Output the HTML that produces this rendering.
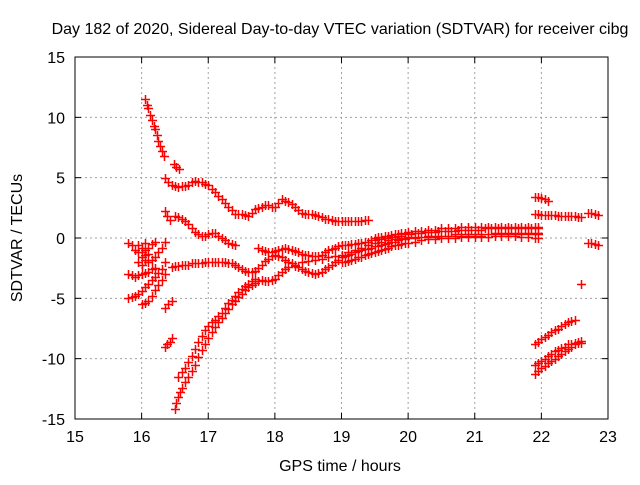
<!DOCTYPE html>
<html><head><meta charset="utf-8"><style>
body{margin:0;background:#fff}
svg text{font-family:"Liberation Sans",sans-serif;font-size:16px;fill:#000}
</style></head><body>
<svg id="c" width="640" height="480"></svg>
<script>
const xTicks=[15,16,17,18,19,20,21,22,23];
const yTicks=[-15,-10,-5,0,5,10,15];
const trackA=[[16.05,11.5],[16.08,11],[16.1,10.8],[16.13,10.2],[16.15,9.8],[16.18,9.3],[16.2,9],[16.23,8.5],[16.25,8],[16.28,7.6],[16.3,7.2],[16.33,6.8],[16.48,6.1],[16.52,5.9],[16.56,5.7],[16.35,5],[16.4,4.6],[16.45,4.4],[16.5,4.3],[16.55,4.2],[16.6,4.3],[16.65,4.3],[16.7,4.4],[16.75,4.6],[16.8,4.7],[16.85,4.6],[16.9,4.6],[16.95,4.5],[17.0,4.4],[17.05,4.1],[17.1,3.8],[17.15,3.5],[17.2,3.2],[17.25,2.9],[17.3,2.6],[17.35,2.3],[17.4,2.0],[17.45,2.0],[17.5,2.0],[17.55,1.9],[17.6,1.8],[17.65,2.1],[17.7,2.4],[17.75,2.5],[17.8,2.6],[17.85,2.7],[17.9,2.7],[17.95,2.6],[18.0,2.6],[18.05,2.9],[18.1,3.2],[18.15,3.1],[18.2,3.0],[18.25,2.8],[18.3,2.6],[18.35,2.3],[18.4,2.1],[18.45,2.0],[18.5,2.0],[18.55,2.0],[18.6,1.9],[18.65,1.8],[18.7,1.7],[18.75,1.6],[18.8,1.6],[18.85,1.5],[18.9,1.4],[18.95,1.4],[19.0,1.4],[19.05,1.4],[19.1,1.4],[19.15,1.4],[19.2,1.4],[19.25,1.4],[19.3,1.4],[19.35,1.5],[19.4,1.5]];
const trackB=[[16.35,2.2],[16.38,1.8],[16.42,1.5],[16.5,1.8],[16.55,1.7],[16.6,1.6],[16.65,1.4],[16.7,1.2],[16.75,0.8],[16.8,0.5],[16.85,0.3],[16.9,0.2],[16.95,0.2],[17.0,0.3],[17.05,0.4],[17.1,0.4],[17.15,0.2],[17.2,0.0],[17.25,-0.2],[17.3,-0.4],[17.35,-0.5],[17.4,-0.6],[17.75,-0.8],[17.8,-1.0],[17.85,-1.1],[17.9,-1.2],[17.95,-1.2],[18.0,-1.1],[18.05,-1.0],[18.1,-0.9],[18.15,-0.8],[18.2,-0.9],[18.25,-1.0],[18.3,-1.1],[18.35,-1.2],[18.4,-1.3],[18.45,-1.4],[18.5,-1.4],[18.55,-1.5],[18.6,-1.5],[18.65,-1.5],[18.7,-1.4],[18.75,-1.2],[18.8,-1.0],[18.85,-0.9],[18.9,-0.8],[18.95,-0.7],[19.0,-0.6],[19.05,-0.6],[19.1,-0.6],[19.15,-0.5],[19.2,-0.5],[19.25,-0.4],[19.3,-0.4],[19.35,-0.3],[19.4,-0.3],[19.45,-0.2],[19.5,-0.2],[19.55,-0.1],[19.6,-0.1],[19.65,0.0],[19.7,0.0],[19.75,0.1],[19.8,0.1],[19.85,0.2],[19.9,0.2],[19.95,0.3],[20.0,0.3],[20.05,0.3],[20.1,0.4],[20.15,0.4],[20.2,0.4],[20.25,0.5],[20.3,0.5],[20.35,0.5],[20.4,0.5],[20.45,0.6],[20.5,0.6],[20.55,0.6],[20.6,0.6],[20.65,0.6],[20.7,0.6],[20.75,0.7],[20.8,0.7],[20.85,0.7],[20.9,0.7],[20.95,0.7],[21.0,0.7],[21.05,0.7],[21.1,0.7],[21.15,0.8],[21.2,0.8],[21.25,0.8],[21.3,0.8],[21.35,0.8],[21.4,0.8],[21.45,0.8],[21.5,0.8],[21.55,0.8],[21.6,0.8],[21.65,0.8],[21.7,0.8],[21.75,0.8],[21.8,0.8],[21.85,0.8],[21.9,0.8],[21.95,0.8]];
const trackC=[[16.45,-2.4],[16.5,-2.3],[16.55,-2.3],[16.6,-2.2],[16.65,-2.2],[16.7,-2.2],[16.75,-2.1],[16.8,-2.1],[16.85,-2.1],[16.9,-2.1],[16.95,-2.0],[17.0,-2.0],[17.05,-2.0],[17.1,-2.0],[17.15,-2.0],[17.2,-2.0],[17.25,-2.0],[17.3,-2.1],[17.35,-2.1],[17.4,-2.2],[17.45,-2.4],[17.5,-2.6],[17.55,-2.7],[17.6,-2.8],[17.65,-2.8],[17.7,-2.7],[17.75,-2.5],[17.8,-2.2],[17.85,-1.9],[17.9,-1.7],[17.95,-1.5],[18.0,-1.4],[18.05,-1.5],[18.1,-1.6],[18.15,-1.8],[18.2,-2.0],[18.25,-2.1],[18.3,-2.3],[18.35,-2.4],[18.4,-2.6],[18.45,-2.7],[18.5,-2.8],[18.55,-2.9],[18.6,-3.0],[18.65,-2.9],[18.7,-2.8],[18.75,-2.6],[18.8,-2.4],[18.85,-2.2],[18.9,-2.0],[18.95,-1.8],[19.0,-1.6],[19.05,-1.5],[19.1,-1.4],[19.15,-1.3],[19.2,-1.2],[19.25,-1.1],[19.3,-1.0],[19.35,-0.95],[19.4,-0.9],[19.45,-0.8],[19.5,-0.7],[19.55,-0.65],[19.6,-0.6],[19.65,-0.5],[19.7,-0.4],[19.75,-0.35],[19.8,-0.3],[19.85,-0.2],[19.9,-0.1],[19.95,-0.05],[20.0,0],[20.1,0.0],[20.2,0.1],[20.3,0.1],[20.4,0.1],[20.5,0.2],[20.6,0.2],[20.7,0.2],[20.8,0.2],[20.9,0.2],[21.0,0.2],[21.1,0.2],[21.2,0.3],[21.3,0.3],[21.4,0.3],[21.5,0.3],[21.6,0.3],[21.7,0.3],[21.8,0.3],[21.9,0.3],[21.95,0.3]];
const trackD=[[16.5,-14.2],[16.52,-13.7],[16.55,-13.2],[16.58,-12.8],[16.6,-12.4],[16.65,-11.9],[16.7,-11.5],[16.75,-11.0],[16.8,-10.5],[16.85,-9.9],[16.9,-9.3],[16.95,-8.8],[17.0,-8.3],[17.05,-7.8],[17.1,-7.4],[17.15,-7.0],[17.2,-6.6],[17.25,-6.2],[17.3,-5.9],[17.35,-5.5],[17.4,-5.2],[17.45,-4.9],[17.5,-4.6],[17.55,-4.3],[17.6,-4.1],[17.65,-3.9],[17.7,-3.7],[17.75,-3.6],[17.8,-3.5],[17.85,-3.6],[17.9,-3.6],[17.95,-3.5],[18.0,-3.4],[18.05,-3.1],[18.1,-2.8],[18.15,-2.6],[18.2,-2.4],[18.3,-2.2],[18.4,-2.0],[18.5,-1.9],[18.6,-1.8],[18.7,-1.7],[18.8,-1.6],[18.9,-1.5],[19.0,-1.4],[19.1,-1.2],[19.2,-1.0],[19.3,-0.8],[19.4,-0.6],[19.5,-0.4],[19.6,-0.3],[19.7,-0.2],[19.8,-0.1],[19.9,0.0],[20.0,0.1],[20.1,0.1],[20.2,0.1],[20.3,0.2],[20.4,0.2],[20.5,0.2],[20.6,0.2],[20.7,0.3],[20.8,0.3],[20.9,0.3],[21.0,0.3],[21.1,0.3],[21.2,0.3],[21.3,0.4],[21.4,0.4],[21.5,0.4],[21.6,0.4],[21.7,0.4],[21.8,0.4],[21.9,0.4],[21.95,0.4]];
const trackE=[[16.55,-11.5],[16.6,-11.1],[16.65,-10.8],[16.7,-10.3],[16.75,-9.8],[16.8,-9.2],[16.85,-8.6],[16.9,-8.1],[16.95,-7.6],[17.0,-7.3],[17.05,-7.0],[17.1,-6.8],[17.15,-6.5],[17.2,-6.2],[17.25,-5.8],[17.3,-5.4],[17.35,-5.1],[17.4,-4.8],[17.45,-4.5],[17.5,-4.2],[17.55,-4.0],[17.6,-3.8],[17.65,-3.6],[17.7,-3.4]];
const trackF=[[19.0,-2.0],[19.05,-2.0],[19.1,-1.9],[19.15,-1.8],[19.2,-1.7],[19.25,-1.6],[19.3,-1.6],[19.35,-1.4],[19.4,-1.3],[19.45,-1.25],[19.5,-1.2],[19.55,-1.1],[19.6,-1.0],[19.65,-0.9],[19.7,-0.8],[19.75,-0.7],[19.8,-0.6],[19.85,-0.55],[19.9,-0.5],[19.95,-0.45],[20.0,-0.4],[20.1,-0.3],[20.2,-0.2],[20.3,-0.1],[20.4,-0.1],[20.5,0],[20.6,0],[20.7,0],[20.8,0.1],[20.9,0.1],[21.0,0.1],[21.1,0.1],[21.2,0.1],[21.3,0.2],[21.4,0.2],[21.5,0.2],[21.6,0.2],[21.7,0.1],[21.8,0.1],[21.9,0.0],[21.95,0.0]];
const trackG=[[19.5,0.0],[19.55,0.05],[19.6,0.1],[19.65,0.15],[19.7,0.2],[19.75,0.25],[19.8,0.3],[19.85,0.35],[19.9,0.4],[19.95,0.45],[20.0,0.5],[20.1,0.6],[20.2,0.6],[20.3,0.7],[20.4,0.7],[20.5,0.8],[20.6,0.8],[20.7,0.8],[20.8,0.9],[20.9,0.9],[21.0,0.9],[21.1,0.9],[21.2,0.9],[21.3,0.9],[21.4,0.9],[21.5,0.9],[21.6,0.9],[21.7,0.9],[21.8,0.9],[21.9,0.9],[21.95,0.9]];
const leftCluster=[[15.8,-0.4],[15.85,-0.6],[15.9,-1.0],[15.95,-1.2],[16.0,-1.6],[16.05,-1.0],[16.1,-0.8],[16.15,-0.5],[16.2,-0.3],[15.8,-3.0],[15.85,-3.1],[15.9,-3.2],[15.95,-3.1],[16.0,-3.0],[16.05,-2.9],[16.1,-2.8],[16.15,-2.6],[16.2,-2.5],[15.8,-5.0],[15.85,-4.9],[15.9,-4.8],[15.95,-4.6],[16.0,-4.4],[16.05,-4.1],[16.1,-3.8],[16.15,-3.5],[16.2,-3.2],[16.25,-2.9],[16.3,-2.6],[16.35,-2.0],[16.1,-2.0],[16.15,-1.8],[16.2,-1.6],[16.25,-1.2],[16.3,-0.8],[16.35,-0.3],[16.0,-5.5],[16.05,-5.4],[16.1,-5.2],[16.15,-4.8],[16.2,-4.3],[16.25,-3.9],[16.3,-3.5],[16.35,-3.0],[16.35,-5.8],[16.4,-5.5],[16.45,-5.2],[16.35,-9.0],[16.38,-8.8],[16.42,-8.6],[16.45,-8.3],[16.0,-2.2],[16.05,-1.8],[15.95,-2.0],[16.0,-0.8],[16.05,-0.4],[16.0,-1.2],[16.05,-1.4],[16.1,-1.3],[15.95,-0.6]];
const rightCluster=[[21.9,3.4],[21.95,3.4],[22.0,3.3],[22.05,3.2],[22.1,3.1],[21.9,2.0],[21.95,2.0],[22.0,1.9],[22.05,1.9],[22.1,1.9],[22.15,1.9],[22.2,1.9],[22.25,1.8],[22.3,1.8],[22.35,1.8],[22.4,1.8],[22.45,1.8],[22.5,1.8],[22.55,1.7],[22.6,1.7],[22.7,2.1],[22.75,2.1],[22.8,2.0],[22.85,1.9],[22.7,-0.4],[22.75,-0.4],[22.8,-0.5],[22.85,-0.6],[22.6,-3.8],[21.9,-8.8],[21.95,-8.6],[22.0,-8.4],[22.05,-8.2],[22.1,-8.0],[22.15,-7.8],[22.2,-7.6],[22.25,-7.5],[22.3,-7.3],[22.35,-7.1],[22.4,-7.0],[22.45,-6.9],[22.5,-6.8],[21.9,-11.3],[21.95,-11.0],[22.0,-10.8],[22.05,-10.6],[22.1,-10.4],[22.15,-10.2],[22.2,-10.0],[22.25,-9.8],[22.3,-9.6],[22.35,-9.4],[22.4,-9.2],[22.45,-9.0],[22.5,-8.8],[22.55,-8.6],[22.6,-8.5],[21.9,-10.5],[21.95,-10.4],[22.0,-10.2],[22.05,-10.0],[22.1,-9.8],[22.15,-9.6],[22.2,-9.4],[22.25,-9.3],[22.3,-9.1],[22.35,-9.0],[22.4,-8.8],[22.45,-8.8],[22.5,-8.7],[22.55,-8.7],[22.6,-8.7]];
const series=[trackA,trackB,trackC,trackD,trackE,trackF,trackG,leftCluster,rightCluster];

const L=75,R=608,T=57,B=419;
const xs=v=>L+(v-15)/(23-15)*(R-L);
const ys=v=>B-(v+15)/30*(B-T);
const svg=document.getElementById('c');
const NS='http://www.w3.org/2000/svg';
function add(tag,attrs,parent){const e=document.createElementNS(NS,tag);for(const k in attrs)e.setAttribute(k,attrs[k]);(parent||svg).appendChild(e);return e;}
const grid=add('g',{});


xTicks.forEach(t=>{const x=xs(t);
 if(t>15&&t<23)add('line',{x1:x,x2:x,y1:T,y2:B,stroke:'#a0a0a0','stroke-dasharray':'2,3'},grid);
 add('line',{x1:x,x2:x,y1:B,y2:B-6,stroke:'#000'},grid);add('line',{x1:x,x2:x,y1:T,y2:T+6,stroke:'#000'},grid);
 const tx=add('text',{x:x,y:B+23,'text-anchor':'middle'});tx.textContent=t;
 
 });
yTicks.forEach(t=>{const y=ys(t);
 if(t>-15&&t<15)add('line',{x1:L,x2:R,y1:y,y2:y,stroke:'#a0a0a0','stroke-dasharray':'2,3'},grid);
 add('line',{x1:L,x2:L+6,y1:y,y2:y,stroke:'#000'},grid);add('line',{x1:R,x2:R-6,y1:y,y2:y,stroke:'#000'},grid);
 const tx=add('text',{x:L-10,y:y+6,'text-anchor':'end'});tx.textContent=t;
 
 });
const border=add('rect',{x:L,y:T,width:R-L,height:B-T,fill:'none',stroke:'#000'});


let d='';
series.forEach(s=>s.forEach(p=>{const x=Math.round(xs(p[0]))+0.5,y=Math.round(ys(p[1]))+0.5;d+=`M${x-4.5} ${y}h9M${x} ${y-4.5}v9`;}));
const pts=add('path',{d:d,stroke:'#f00','stroke-width':1.5,fill:'none'});


const title=add('text',{x:340,y:34,'text-anchor':'middle'});title.textContent='Day 182 of 2020, Sidereal Day-to-day VTEC variation (SDTVAR) for receiver cibg';


const xl=add('text',{x:340,y:471,'text-anchor':'middle'});xl.textContent='GPS time / hours';


const yl=add('text',{x:0,y:0,'text-anchor':'middle',transform:'translate(22,238) rotate(-90)'});yl.textContent='SDTVAR / TECUs';


</script>
</body></html>
